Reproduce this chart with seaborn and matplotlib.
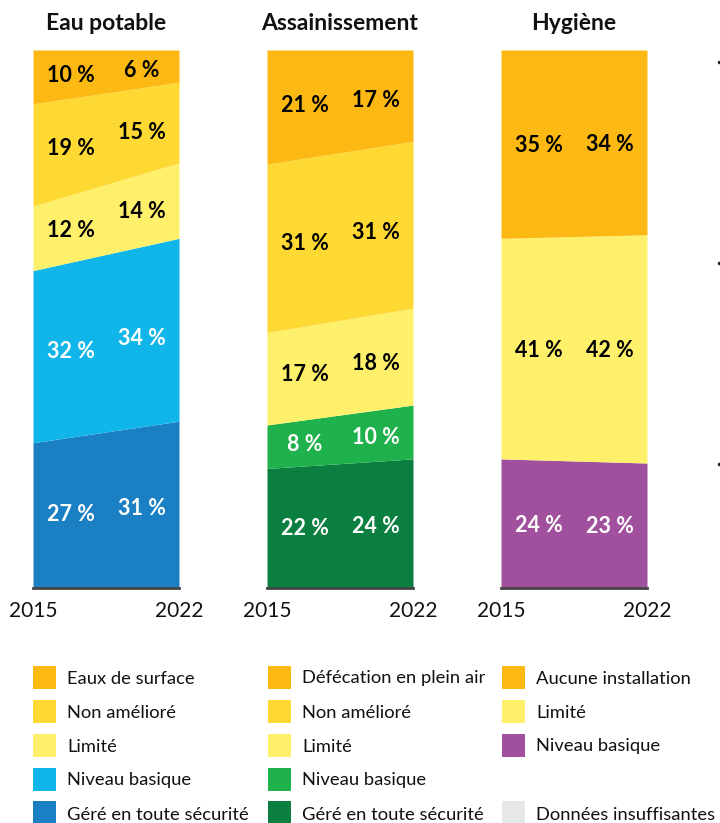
import matplotlib
matplotlib.use("Agg")
import matplotlib.pyplot as plt
from matplotlib.patches import Rectangle
from matplotlib.lines import Line2D
import numpy as np
import seaborn as sns

sns.set_theme(style="white")
plt.rcParams["font.family"] = ["Lato", "DejaVu Sans"]

years = [2015, 2022]

# Eau potable (bottom to top)
water_safe = [27, 31]
water_basic = [32, 34]
water_limited = [12, 14]
water_unimproved = [19, 15]
water_surface = [10, 6]

# Assainissement (bottom to top)
san_safe = [22, 24]
san_basic = [8, 10]
san_limited = [17, 18]
san_unimproved = [31, 31]
san_open = [21, 17]

# Hygiène (bottom to top)
hyg_basic = [24, 23]
hyg_limited = [41, 42]
hyg_none = [35, 34]

titles = ["Eau potable", "Assainissement", "Hygiène"]

C_ORANGE = "#FDB913"
C_UNIMP = "#FFD933"
C_LIMIT = "#FFF06B"
C_WBASIC = "#10B6EA"
C_WSAFE = "#1B7FC3"
C_SBASIC = "#1FB14B"
C_SSAFE = "#0A7F40"
C_HBASIC = "#A1509E"
C_NODATA = "#E6E7E8"

panels = [
    (titles[0],
     [water_safe, water_basic, water_limited, water_unimproved, water_surface],
     [C_WSAFE, C_WBASIC, C_LIMIT, C_UNIMP, C_ORANGE],
     ["white", "white", "black", "black", "black"]),
    (titles[1],
     [san_safe, san_basic, san_limited, san_unimproved, san_open],
     [C_SSAFE, C_SBASIC, C_LIMIT, C_UNIMP, C_ORANGE],
     ["white", "white", "black", "black", "black"]),
    (titles[2],
     [hyg_basic, hyg_limited, hyg_none],
     [C_HBASIC, C_LIMIT, C_ORANGE],
     ["white", "black", "black"]),
]

W, H = 720, 823
fig = plt.figure(figsize=(W / 100, H / 100), dpi=100)

def fx(px):
    return px / W

def fy(py):
    return 1 - py / H

lefts = [33, 267, 501]
pw, top, bottom = 146, 50, 588
label_fracs = [0.26, 0.745]

for left, (title, series, colors, tcolors) in zip(lefts, panels):
    ax = fig.add_axes([fx(left), fy(bottom), fx(pw), (bottom - top) / H])
    vals = np.array(series, dtype=float)
    totals = vals.sum(axis=0)
    shares = vals / totals * 100
    ax.stackplot(years, shares, colors=colors, linewidth=0)
    ax.set_xlim(years[0], years[1])
    ax.set_ylim(0, 100)
    ax.set_xticks([])
    ax.set_yticks([])
    for s in ["top", "right", "left"]:
        ax.spines[s].set_visible(False)
    ax.spines["bottom"].set_color("#444444")
    ax.spines["bottom"].set_linewidth(2)

    cum = np.vstack([np.zeros(2), np.cumsum(shares, axis=0)])
    for i, (row, tc) in enumerate(zip(series, tcolors)):
        for j, fr in enumerate(label_fracs):
            lo = cum[i, 0] + (cum[i, 1] - cum[i, 0]) * fr
            hi = cum[i + 1, 0] + (cum[i + 1, 1] - cum[i + 1, 0]) * fr
            xv = years[0] + (years[1] - years[0]) * fr
            ax.text(xv, (lo + hi) / 2 - 0.3, f"{row[j]} %", ha="center",
                    va="center", color=tc, fontsize=15.5, fontweight="bold")

    fig.text(fx(left + pw / 2), fy(23), title, ha="center", va="center",
             fontsize=16.5, fontweight="bold", color="#111111")
    fig.text(fx(left), fy(611), str(years[0]), ha="center", va="center",
             fontsize=15, color="#111111")
    fig.text(fx(left + pw), fy(611), str(years[1]), ha="center",
             va="center", fontsize=15, color="#111111")

# Legend, three columns
legend_cols = [
    (33, [("Eaux de surface", C_ORANGE), ("Non amélioré", C_UNIMP),
          ("Limité", C_LIMIT), ("Niveau basique", C_WBASIC),
          ("Géré en toute sécurité", C_WSAFE)]),
    (268, [("Défécation en plein air", C_ORANGE), ("Non amélioré", C_UNIMP),
           ("Limité", C_LIMIT), ("Niveau basique", C_SBASIC),
           ("Géré en toute sécurité", C_SSAFE)]),
    (502, [("Aucune installation", C_ORANGE), ("Limité", C_LIMIT),
           ("Niveau basique", C_HBASIC), None,
           ("Données insuffisantes", C_NODATA)]),
]
row_y = [677, 711, 745, 779, 813]
sq = 23
for x0, items in legend_cols:
    for yc, item in zip(row_y, items):
        if item is None:
            continue
        label, col = item
        fig.add_artist(Rectangle((fx(x0), fy(yc + sq / 2)), fx(sq), sq / H,
                                 transform=fig.transFigure,
                                 facecolor=col, edgecolor="none"))
        fig.text(fx(x0 + 34), fy(yc + 1.5), label, ha="left", va="center",
                 fontsize=13.2, color="#111111")

# bullets at the right edge
for yb in [62, 263, 464]:
    fig.add_artist(Line2D([fx(719)], [fy(yb)], marker="o", markersize=1.5,
                          color="#222222", transform=fig.transFigure))

fig.savefig("out.png", dpi=100)
